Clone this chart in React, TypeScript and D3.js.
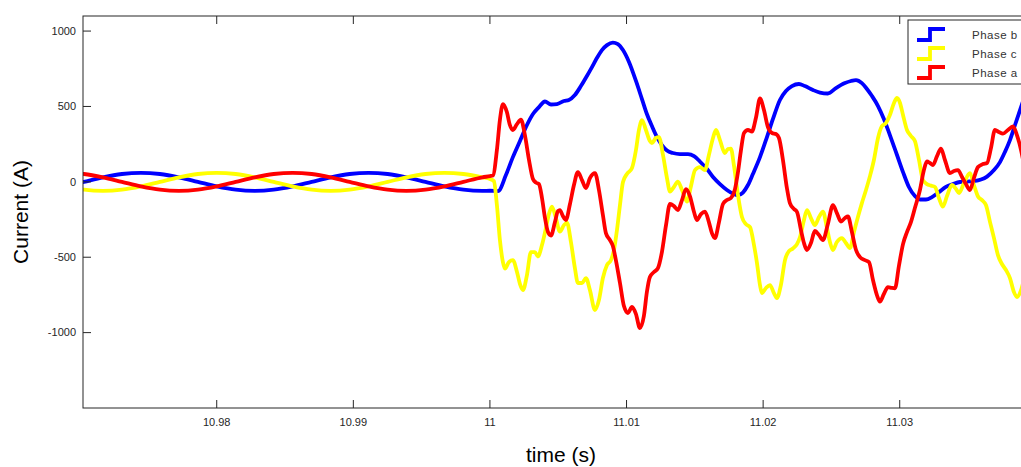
import React from "react";
import * as d3 from "d3";

// ---------- data ----------
// steady-state samples before the fault (s, A)
const preTime = [10.96889, 10.97028, 10.97167, 10.97306, 10.97445, 10.97584, 10.97723, 10.97862, 10.98, 10.98139, 10.98278, 10.98417, 10.98556, 10.98695, 10.98834, 10.98973, 10.99112, 10.99251, 10.99389, 10.99528, 10.99667, 10.99806, 10.99945, 11.0];
const preA = [60, 52, 30, 0, -30, -52, -60, -52, -30, 0, 30, 52, 60, 52, 30, 0, -30, -52, -60, -52, -30, 0, 30, 38];
const preB = [-30, 0, 30, 52, 60, 52, 30, 0, -30, -52, -60, -52, -30, 0, 30, 52, 60, 52, 30, 0, -30, -52, -60, -59];
const preC = [-30, -52, -60, -52, -30, 0, 30, 52, 60, 52, 30, 0, -30, -52, -60, -52, -30, 0, 30, 52, 60, 52, 30, 19];

// post-fault samples [time (s), current (A)]
const postB: [number, number][] = [
  [11.00059, -62], [11.00117, 45], [11.00168, 164], [11.0022, 271], [11.00271, 377], [11.00315, 450], [11.00359, 496],
  [11.00403, 533], [11.00447, 513], [11.00491, 516], [11.00542, 536], [11.00578, 543], [11.00622, 576], [11.00666, 635],
  [11.0071, 702], [11.00747, 761], [11.00783, 821], [11.0082, 874], [11.00857, 907], [11.009, 924], [11.00937, 914],
  [11.00974, 874], [11.01018, 795], [11.01069, 669], [11.01113, 549], [11.01149, 450], [11.01186, 370], [11.01223, 297],
  [11.01259, 244], [11.01296, 208], [11.0134, 191], [11.01391, 184], [11.0145, 184], [11.01494, 171], [11.01537, 135],
  [11.01589, 85], [11.01633, 32], [11.01684, -15], [11.01735, -54], [11.01779, -78], [11.01816, -88], [11.01852, -71],
  [11.01889, -21], [11.01925, 52], [11.01977, 164], [11.02028, 297], [11.02072, 417], [11.02123, 543], [11.02167, 602],
  [11.02211, 635], [11.02262, 649], [11.02306, 635], [11.02365, 609], [11.02416, 592], [11.02474, 586], [11.02533, 622],
  [11.02599, 655], [11.02643, 669], [11.0268, 675], [11.02723, 655], [11.0276, 616], [11.02797, 569], [11.02841, 503],
  [11.02884, 417], [11.02928, 310], [11.0298, 178], [11.03024, 65], [11.03067, -34], [11.03111, -94], [11.03148, -117],
  [11.03192, -117], [11.03236, -101], [11.03287, -68], [11.03338, -34], [11.0339, -15], [11.03441, -1], [11.03492, 2],
  [11.03543, 5], [11.03595, 15], [11.03639, 35], [11.0369, 78], [11.03734, 131], [11.0377, 198], [11.03807, 277],
  [11.03844, 377], [11.03888, 496], [11.03931, 609],
];
const postC: [number, number][] = [
  [11.00029, 5], [11.00051, -154], [11.00073, -386], [11.00095, -532], [11.0011, -575], [11.00139, -532], [11.00168, -519],
  [11.00198, -598], [11.0022, -678], [11.00242, -718], [11.00271, -618], [11.003, -466], [11.00329, -466], [11.00351, -495],
  [11.00381, -419], [11.0041, -306], [11.00432, -214], [11.00454, -164], [11.00483, -240], [11.00512, -330], [11.00542, -287],
  [11.00564, -270], [11.00593, -399], [11.00622, -572], [11.00644, -671], [11.00674, -671], [11.00703, -638], [11.00732, -718],
  [11.00769, -850], [11.00798, -784], [11.00827, -638], [11.00857, -552], [11.00886, -519], [11.00908, -452], [11.0093, -320],
  [11.00952, -154], [11.00974, -1], [11.01003, 52], [11.0104, 92], [11.01069, 211], [11.01091, 344], [11.01113, 410],
  [11.01142, 344], [11.01171, 271], [11.01186, 257], [11.01215, 291], [11.01237, 297], [11.01267, 178], [11.01296, 25],
  [11.01318, -64], [11.01347, -34], [11.01376, 2], [11.01406, -54], [11.01442, -131], [11.01472, -28], [11.01501, 78],
  [11.01537, 98], [11.01574, 78], [11.01603, 178], [11.01633, 291], [11.01655, 344], [11.01684, 277], [11.0172, 191],
  [11.01742, 218], [11.01764, 221], [11.01786, 111], [11.01816, -88], [11.01845, -233], [11.01874, -280], [11.01904, -300],
  [11.01933, -419], [11.01955, -539], [11.01977, -685], [11.01991, -738], [11.02021, -704], [11.0205, -685], [11.02079, -738],
  [11.02101, -771], [11.0213, -685], [11.0216, -519], [11.02189, -459], [11.02218, -442], [11.02248, -413], [11.0227, -366],
  [11.02299, -253], [11.02321, -187], [11.0235, -240], [11.02379, -287], [11.02409, -233], [11.02438, -197], [11.02467, -306],
  [11.02489, -399], [11.02511, -452], [11.0254, -399], [11.02577, -373], [11.02606, -406], [11.02636, -439], [11.02665, -333],
  [11.02694, -233], [11.02723, -141], [11.02753, -54], [11.02782, 38], [11.02811, 145], [11.02841, 291], [11.0287, 370],
  [11.02899, 390], [11.02928, 443], [11.02958, 523], [11.0298, 556], [11.03002, 523], [11.03024, 443], [11.03053, 344],
  [11.03082, 304], [11.03111, 271], [11.03141, 145], [11.0317, 12], [11.03199, -15], [11.03229, -25], [11.03258, -34],
  [11.03287, -107], [11.03316, -164], [11.03346, -94], [11.03382, -21], [11.03412, -48], [11.03434, -74], [11.0347, -8],
  [11.03514, 58], [11.03543, -21], [11.03573, -97], [11.03602, -121], [11.03631, -154], [11.03661, -267], [11.0369, -373],
  [11.03719, -486], [11.03748, -545], [11.03778, -585], [11.03807, -638], [11.03836, -731], [11.03858, -764], [11.03888, -718],
  [11.03917, -618],
];
const postA: [number, number][] = [
  [11.00022, 42], [11.00051, 211], [11.00073, 410], [11.00095, 516], [11.00124, 463], [11.00146, 377], [11.00168, 344],
  [11.00198, 383], [11.00227, 413], [11.00256, 310], [11.00286, 145], [11.00315, 19], [11.00337, -5], [11.00359, -15],
  [11.00381, -107], [11.00403, -240], [11.00425, -333], [11.00447, -356], [11.00476, -267], [11.00498, -194], [11.00512, -187],
  [11.00534, -227], [11.00556, -253], [11.00586, -147], [11.00615, -21], [11.00644, 65], [11.00674, 12], [11.00703, -41],
  [11.00732, 25], [11.00769, 58], [11.00798, -54], [11.00827, -220], [11.00849, -340], [11.00879, -386], [11.009, -426],
  [11.00922, -519], [11.00952, -671], [11.00981, -824], [11.0101, -870], [11.0104, -830], [11.01069, -877], [11.01098, -970],
  [11.01127, -890], [11.01149, -731], [11.01171, -631], [11.01201, -598], [11.0123, -572], [11.01259, -466], [11.01289, -287],
  [11.01318, -147], [11.01347, -161], [11.01376, -187], [11.01406, -121], [11.01435, -48], [11.01464, -94], [11.01494, -200],
  [11.01515, -253], [11.01545, -214], [11.01574, -197], [11.01603, -267], [11.01625, -340], [11.01647, -373], [11.01677, -267],
  [11.01706, -147], [11.01735, -121], [11.01764, -107], [11.01794, -48], [11.01816, 65], [11.01838, 211], [11.0186, 324],
  [11.01889, 344], [11.01918, 334], [11.01947, 423], [11.01977, 553], [11.02006, 476], [11.02035, 363], [11.02065, 324],
  [11.02094, 317], [11.02116, 291], [11.02145, 145], [11.02174, -41], [11.02196, -141], [11.02226, -180], [11.02248, -200],
  [11.02277, -320], [11.02299, -406], [11.02321, -452], [11.0235, -406], [11.02379, -326], [11.02409, -353], [11.02438, -386],
  [11.02474, -280], [11.02511, -154], [11.0254, -207], [11.0257, -263], [11.02599, -240], [11.02621, -230], [11.0265, -333],
  [11.0268, -452], [11.02709, -499], [11.02745, -519], [11.02775, -532], [11.02804, -651], [11.02833, -751], [11.02855, -794],
  [11.02884, -744], [11.02914, -698], [11.02943, -704], [11.02965, -706], [11.02994, -558], [11.03024, -413], [11.03053, -333],
  [11.03082, -267], [11.03111, -174], [11.03148, -54], [11.03177, 78], [11.03199, 135], [11.03221, 125], [11.03243, 111],
  [11.03273, 171], [11.03302, 221], [11.03331, 145], [11.03368, 58], [11.03397, 72], [11.03426, 78], [11.03456, 32],
  [11.03485, -15], [11.03514, -54], [11.03543, 25], [11.03573, 98], [11.03609, 118], [11.03639, 125], [11.03668, 224],
  [11.03697, 344], [11.03726, 330], [11.03756, 320], [11.03792, 344], [11.03829, 367], [11.03858, 310], [11.03888, 211],
  [11.03917, 78],
];

const seriesNames = ["Phase b", "Phase c", "Phase a"];
const seriesColors = ["#0000ff", "#ffff00", "#ff0000"];
const xTicks = [10.98, 10.99, 11, 11.01, 11.02, 11.03];
const yTicks = [-1000, -500, 0, 500, 1000];
const xDomain = [10.97021, 11.04];
const yDomain = [-1500, 1100];

// ---------- layout ----------
const W = 1021;
const H = 467;
const left = 83;
const top = 16;
const bottom = 408;
const right = left + (xDomain[1] - xDomain[0]) * 13660;

export default function App() {
  const x = d3.scaleLinear().domain(xDomain).range([left, right]);
  const y = d3.scaleLinear().domain(yDomain).range([bottom, top]);

  const toPts = (vals: number[], post: [number, number][]) =>
    preTime.map((t, i) => [t, vals[i]] as [number, number]).concat(post);
  const data = [toPts(preB, postB), toPts(preC, postC), toPts(preA, postA)];

  const line = d3
    .line<[number, number]>()
    .x((d) => x(d[0]))
    .y((d) => y(d[1]))
    .curve(d3.curveMonotoneX);

  const axisColor = "#262626";
  const font = "'Liberation Sans', Arial, Helvetica, sans-serif";
  const tickLen = 8;

  const legendX = 908;
  const legendTop = 20;
  const rowY = [34.5, 53.5, 72.5];

  return (
    <svg
      width={W}
      height={H}
      style={{ position: "absolute", left: 0, top: 0, background: "#fff" }}
      fontFamily={font}
    >
      <rect x={0} y={0} width={W} height={H} fill="#fff" />
      <defs>
        <clipPath id="plotClip">
          <rect x={left} y={top} width={right - left} height={bottom - top} />
        </clipPath>
      </defs>

      {/* series */}
      <g clipPath="url(#plotClip)">
        {data.map((d, i) => (
          <path
            key={i}
            d={line(d) || ""}
            fill="none"
            stroke={seriesColors[i]}
            strokeWidth={3.8}
            strokeLinejoin="round"
            strokeLinecap="round"
          />
        ))}
      </g>

      {/* axes box */}
      <rect x={left} y={top} width={right - left} height={bottom - top} fill="none" stroke={axisColor} strokeWidth={1} />

      {xTicks.map((t) => (
        <g key={t}>
          <line x1={x(t)} x2={x(t)} y1={bottom} y2={bottom - tickLen} stroke={axisColor} />
          <line x1={x(t)} x2={x(t)} y1={top} y2={top + tickLen} stroke={axisColor} />
          <text x={x(t)} y={426} textAnchor="middle" fontSize={11} fill={axisColor}>
            {String(+t.toFixed(2))}
          </text>
        </g>
      ))}
      {yTicks.map((v) => (
        <g key={v}>
          <line x1={left} x2={left + tickLen} y1={y(v)} y2={y(v)} stroke={axisColor} />
          <text x={76} y={y(v)} dy="0.35em" textAnchor="end" fontSize={11} fill={axisColor}>
            {v}
          </text>
        </g>
      ))}

      <text x={561} y={462} textAnchor="middle" fontSize={21} fill="#000">
        time (s)
      </text>
      <text
        transform={`translate(28, 212) rotate(-90)`}
        textAnchor="middle"
        fontSize={21}
        fill="#000"
      >
        Current (A)
      </text>

      {/* legend */}
      <rect x={legendX} y={legendTop} width={200} height={64} fill="#fff" stroke={axisColor} strokeWidth={1} />
      {seriesNames.map((name, i) => {
        const cy = rowY[i];
        const p = `M917,${cy + 5.5} H930 V${cy - 5.5} H945`;
        return (
          <g key={name}>
            <path d={p} fill="none" stroke={seriesColors[i]} strokeWidth={3.8} />
            <text x={972} y={cy} dy="0.35em" fontSize={11.5} letterSpacing={0.5} fill="#333">
              {name}
            </text>
          </g>
        );
      })}
    </svg>
  );
}
